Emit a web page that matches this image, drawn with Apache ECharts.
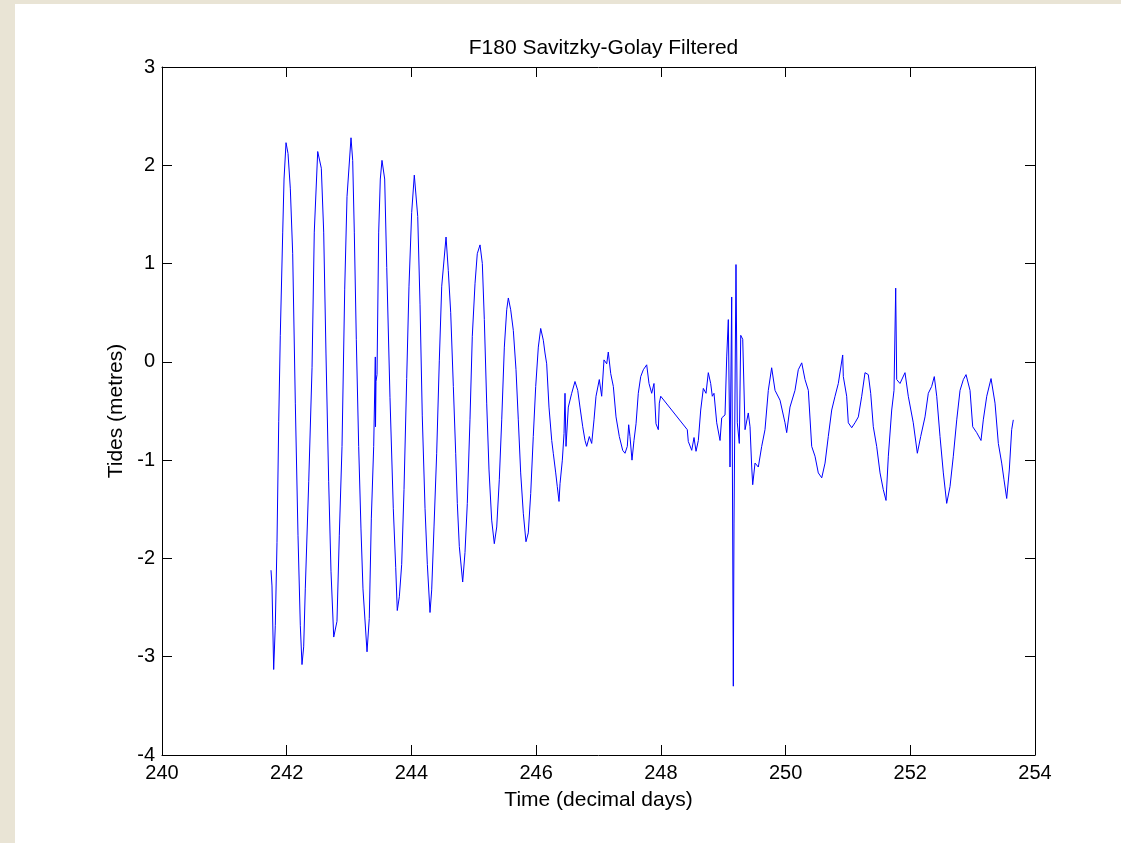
<!DOCTYPE html>
<html>
<head>
<meta charset="utf-8">
<script src="https://cdn.jsdelivr.net/npm/echarts@6/dist/echarts.min.js"></script>
<style>
	html, body { margin:0; padding:0; }
	body { width:1121px; height:843px; background:#e9e4d5; position:relative; overflow:hidden; }
	#tides { position:absolute; left:15px; top:4px; width:1106px; height:839px; background:#fff; }
</style>
</head>
<body>
<div id="tides"></div>
<script>
// time (decimal days)
var days = [
	241.748,241.764,241.791,241.817,241.844,241.872,241.897,241.936,241.957,241.989,
	242.021,242.058,242.096,242.138,242.181,242.218,242.245,242.272,242.298,242.353,
	242.406,242.442,242.497,242.555,242.593,242.630,242.673,242.710,242.754,242.806,
	242.843,242.887,242.930,242.967,243.031,243.058,243.084,243.116,243.154,243.191,
	243.223,243.288,243.324,243.357,243.395,243.421,243.424,243.432,243.448,243.475,
	243.501,243.528,243.571,243.604,243.656,243.709,243.748,243.773,243.806,243.844,
	243.881,243.924,243.961,244.004,244.046,244.069,244.101,244.138,244.174,244.218,
	244.255,244.298,244.325,244.362,244.405,244.447,244.486,244.555,244.591,244.630,
	244.672,244.710,244.736,244.768,244.822,244.859,244.896,244.939,244.976,245.020,
	245.056,245.100,245.137,245.169,245.207,245.244,245.287,245.329,245.368,245.409,
	245.448,245.490,245.528,245.554,245.592,245.634,245.677,245.714,245.752,245.794,
	245.837,245.874,245.913,245.954,245.993,246.035,246.073,246.115,246.142,246.169,
	246.206,246.250,246.275,246.314,246.339,246.367,246.383,246.420,246.447,246.463,
	246.479,246.516,246.570,246.623,246.667,246.703,246.747,246.784,246.811,246.853,
	246.891,246.928,246.960,247.013,247.051,247.088,247.132,247.157,247.196,247.238,
	247.281,247.334,247.388,247.425,247.462,247.484,247.505,247.537,247.569,247.602,
	247.638,247.677,247.719,247.773,247.810,247.853,247.890,247.922,247.959,247.975,
	247.998,248.424,248.440,248.495,248.532,248.564,248.601,248.639,248.681,248.724,
	248.761,248.799,248.825,248.852,248.896,248.949,248.976,249.029,249.056,249.082,
	249.109,249.136,249.162,249.173,249.205,249.226,249.258,249.281,249.313,249.350,
	249.402,249.430,249.457,249.473,249.510,249.563,249.617,249.670,249.723,249.777,
	249.831,249.911,249.991,250.018,250.071,250.151,250.204,250.259,250.312,250.365,
	250.419,250.472,250.525,250.580,250.633,250.685,250.740,250.793,250.846,250.916,
	250.926,250.980,251.006,251.061,251.113,251.167,251.221,251.274,251.327,251.365,
	251.407,251.461,251.515,251.567,251.611,251.648,251.702,251.739,251.766,251.782,
	251.835,251.915,251.968,252.048,252.113,252.167,252.236,252.289,252.343,252.385,
	252.424,252.477,252.530,252.584,252.637,252.690,252.745,252.798,252.851,252.894,
	252.958,253.001,253.065,253.134,253.171,253.226,253.295,253.359,253.412,253.466,
	253.503,253.546,253.588,253.626,253.652
];
// tide level (metres)
var tides = [
	-2.12,-2.28,-3.13,-2.68,-1.84,-0.61,0.27,1.32,1.86,2.23,
	2.12,1.76,1.10,-0.42,-1.77,-2.68,-3.08,-2.90,-2.31,-1.22,
	-0.06,1.32,2.14,1.97,1.32,0.08,-1.22,-2.13,-2.80,-2.64,
	-1.77,-0.86,0.74,1.68,2.28,2.05,1.32,0.23,-0.86,-1.70,
	-2.31,-2.95,-2.61,-1.59,-0.86,0.05,-0.66,-0.20,-0.13,1.32,
	1.86,2.05,1.86,0.96,-0.36,-1.49,-2.09,-2.53,-2.39,-2.06,
	-1.30,-0.17,0.77,1.52,1.90,1.92,1.48,0.58,-0.55,-1.49,
	-2.06,-2.55,-2.32,-1.68,-0.93,0.01,0.77,1.27,0.93,0.50,
	-0.25,-0.93,-1.44,-1.88,-2.24,-1.94,-1.44,-0.59,0.26,0.80,
	1.10,1.19,1.00,0.43,-0.42,-1.10,-1.61,-1.85,-1.68,-1.20,
	-0.59,0.15,0.53,0.65,0.53,0.32,-0.08,-0.59,-1.13,-1.54,
	-1.83,-1.74,-1.34,-0.76,-0.25,0.15,0.34,0.22,0.09,-0.02,
	-0.46,-0.80,-0.93,-1.13,-1.27,-1.42,-1.24,-1.00,-0.73,-0.32,
	-0.86,-0.46,-0.32,-0.20,-0.29,-0.46,-0.66,-0.80,-0.86,-0.76,
	-0.83,-0.59,-0.35,-0.18,-0.35,0.02,-0.02,0.10,-0.12,-0.25,
	-0.56,-0.76,-0.90,-0.93,-0.86,-0.64,-0.76,-1.00,-0.80,-0.63,
	-0.32,-0.15,-0.08,-0.03,-0.22,-0.32,-0.22,-0.63,-0.69,-0.42,
	-0.35,-0.69,-0.81,-0.90,-0.77,-0.91,-0.80,-0.49,-0.27,-0.32,
	-0.11,-0.22,-0.35,-0.32,-0.62,-0.80,-0.57,-0.54,0.05,0.43,
	-1.07,0.66,-3.30,-1.64,0.99,-0.62,-0.83,0.27,0.23,-0.69,
	-0.52,-0.66,-1.07,-1.25,-1.03,-1.07,-0.86,-0.69,-0.29,-0.06,
	-0.29,-0.39,-0.62,-0.72,-0.46,-0.29,-0.08,-0.01,-0.18,-0.29,
	-0.86,-0.96,-1.13,-1.18,-1.03,-0.76,-0.49,-0.35,-0.22,0.07,
	-0.15,-0.35,-0.62,-0.67,-0.62,-0.56,-0.35,-0.11,-0.13,-0.32,
	-0.66,-0.86,-1.13,-1.30,-1.41,-0.96,-0.49,-0.29,0.75,-0.18,
	-0.22,-0.11,-0.35,-0.62,-0.93,-0.76,-0.56,-0.32,-0.25,-0.15,
	-0.35,-0.76,-1.13,-1.44,-1.27,-0.96,-0.59,-0.29,-0.18,-0.13,
	-0.29,-0.66,-0.72,-0.80,-0.59,-0.35,-0.17,-0.42,-0.83,-1.03,
	-1.20,-1.39,-1.10,-0.69,-0.59
];
var xTicks = [240, 254, 2];
var yTicks = [-4, 3, 1];

var fontName = 'Liberation Sans, Arial, sans-serif';
var points = days.map(function (d, i) { return [d, tides[i]]; });

var myChart = echarts.init(document.getElementById('tides'));
// box axes, ticks pointing in on all four sides
var tick = { show:true, inside:true, length:10, lineStyle:{ color:'#000', width:1 } };
var line = { show:true, onZero:false, lineStyle:{ color:'#000', width:1 } };
var option = {
	animation: false,
	backgroundColor: '#fff',
	title: {
		text: 'F180 Savitzky-Golay Filtered',
		left: 583.5,
		textAlign: 'center',
		top: 29,
		textStyle: { fontFamily: fontName, fontSize: 21, fontWeight: 'normal', color: '#000' }
	},
	grid: { left: 147, right: 86, top: 63, bottom: 88 },
	xAxis: [
		{
			type: 'value', min: xTicks[0], max: xTicks[1], interval: xTicks[2],
			position: 'bottom',
			name: 'Time (decimal days)', nameLocation: 'middle', nameGap: 35,
			nameTextStyle: { fontFamily: fontName, fontSize: 21, color: '#000' },
			axisLine: line, axisTick: tick,
			axisLabel: { margin: 8, fontFamily: fontName, fontSize: 20, color: '#000' },
			splitLine: { show: false }
		},
		{
			type: 'value', min: xTicks[0], max: xTicks[1], interval: xTicks[2],
			position: 'top',
			axisLine: line, axisTick: tick,
			axisLabel: { show: false },
			splitLine: { show: false }
		}
	],
	yAxis: [
		{
			type: 'value', min: yTicks[0], max: yTicks[1], interval: yTicks[2],
			position: 'left',
			name: 'Tides (metres)', nameLocation: 'middle', nameGap: 29,
			nameTextStyle: { fontFamily: fontName, fontSize: 21, color: '#000' },
			axisLine: line, axisTick: tick,
			axisLabel: { margin: 7, fontFamily: fontName, fontSize: 20, color: '#000' },
			splitLine: { show: false }
		},
		{
			type: 'value', min: yTicks[0], max: yTicks[1], interval: yTicks[2],
			position: 'right',
			axisLine: line, axisTick: tick,
			axisLabel: { show: false },
			splitLine: { show: false }
		}
	],
	series: [
		{
			name: 'F180',
			type: 'line',
			data: points,
			showSymbol: false,
			symbol: 'none',
			sampling: null,
			lineStyle: { color: '#0000ff', width: 1 },
			z: 1
		}
	]
};
myChart.setOption(option);
</script>
</body>
</html>
